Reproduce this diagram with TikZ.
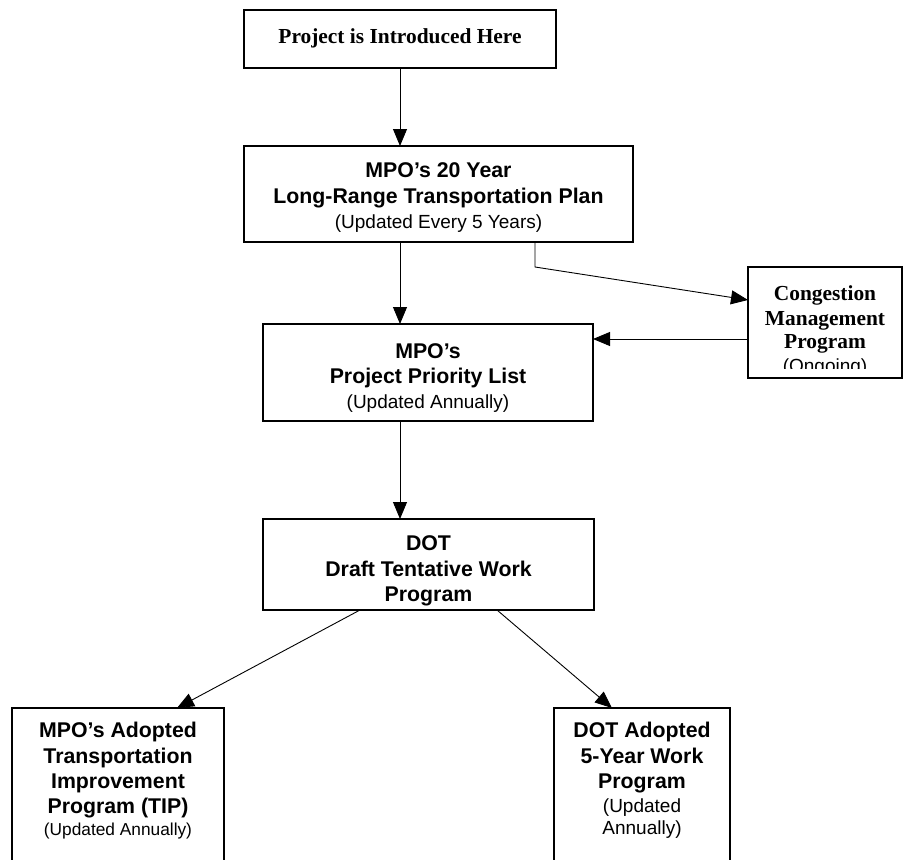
\documentclass[tikz,border=0pt]{standalone}
\usepackage{fontspec}
\setmainfont{Liberation Sans}
\newfontfamily\timesfont{Liberation Serif}
\usetikzlibrary{arrows.meta}
\begin{document}
\begin{tikzpicture}[x=1pt,y=-1pt,
  box/.style={draw=black, line width=1.2pt, inner sep=0pt, outer sep=0pt},
  conn/.style={draw=black, line width=0.9pt, -{Triangle[length=17pt,width=14pt]}},
  bl/.style={anchor=base, inner sep=0pt, font=\fontsize{21.3}{25}\selectfont\bfseries},
  rl/.style={anchor=base, inner sep=0pt, font=\fontsize{19}{23}\selectfont},
  sl/.style={anchor=base, inner sep=0pt, font=\fontsize{17.3}{21}\selectfont},
  tl/.style={anchor=base, inner sep=0pt, font=\timesfont\fontsize{21.4}{25}\selectfont\bfseries},
]
\useasboundingbox (0,0) rectangle (909,859);
\clip (0,0) rectangle (909,859);

% boxes
\node[box, minimum width=312pt, minimum height=58pt] (b1) at (400,39) {};
\node[box, minimum width=389pt, minimum height=96pt] (b2) at (438.5,194) {};
\node[box, minimum width=330pt, minimum height=97pt] (b3) at (428,372.5) {};
\node[box, minimum width=331pt, minimum height=91pt] (b4) at (428.5,564.5) {};
\node[box, minimum width=154pt, minimum height=111pt] (cg) at (825,322.5) {};
\node[box, minimum width=212pt, minimum height=192pt] (b5) at (118,804) {};
\node[box, minimum width=176pt, minimum height=192pt] (b6) at (642,804) {};

% texts
\node[tl] (t1) at (400,44) {Project is Introduced Here};

\node[bl] (t2a) at (438.5,177) {MPO’s 20 Year};
\node[bl] (t2b) at (438.5,203) {Long-Range Transportation Plan};
\node[rl] (t2c) at (438.5,228) {(Updated Every 5 Years)};

\node[bl] (t3a) at (428,358) {MPO’s};
\node[bl] (t3b) at (428,383) {Project Priority List};
\node[rl] (t3c) at (428,408) {(Updated Annually)};

\node[bl] (t4a) at (428.5,550) {DOT};
\node[bl] (t4b) at (428.5,576) {Draft Tentative Work};
\node[bl] (t4c) at (428.5,601) {Program};

\node[tl] (tca) at (825,300) {Congestion};
\node[tl] (tcb) at (825,325) {Management};
\node[tl] (tcc) at (825,348) {Program};
\begin{scope}
  \clip (748,267) rectangle (902,368);
  \node[rl] (tcd) at (825,372) {(Ongoing)};
\end{scope}

\node[bl] (t5a) at (118,737) {MPO’s Adopted};
\node[bl] (t5b) at (118,763) {Transportation};
\node[bl] (t5c) at (118,788) {Improvement};
\node[bl] (t5d) at (118,813) {Program (TIP)};
\node[sl] (t5e) at (118,835) {(Updated Annually)};

\node[bl] (t6a) at (642,737) {DOT Adopted};
\node[bl] (t6b) at (642,763) {5-Year Work};
\node[bl] (t6c) at (642,788) {Program};
\node[rl] (t6d) at (642,812) {(Updated};
\node[rl] (t6e) at (642,834) {Annually)};

% connectors
\draw[conn] (b1.south) -- (b1.south |- b2.north);
\draw[conn] (b1.south |- b2.south) -- (b1.south |- b3.north);
\coordinate (c2) at ([xshift=96.5pt]b2.south);
\coordinate (cgin) at ([yshift=22.5pt]cg.west);
\draw[conn] (c2) -- ++(0,25) -- (cgin);
\coordinate (cgout) at ([yshift=-16.5pt]cg.west);
\draw[conn] (cgout) -- (b3.east |- cgout);
\draw[conn] (b1.south |- b3.south) -- (b1.south |- b4.north);
\draw[conn] ([xshift=-68.5pt]b4.south) -- ([xshift=59pt]b5.north);
\draw[conn] ([xshift=68.5pt]b4.south) -- ([xshift=-30pt]b6.north);
\end{tikzpicture}
\end{document}
